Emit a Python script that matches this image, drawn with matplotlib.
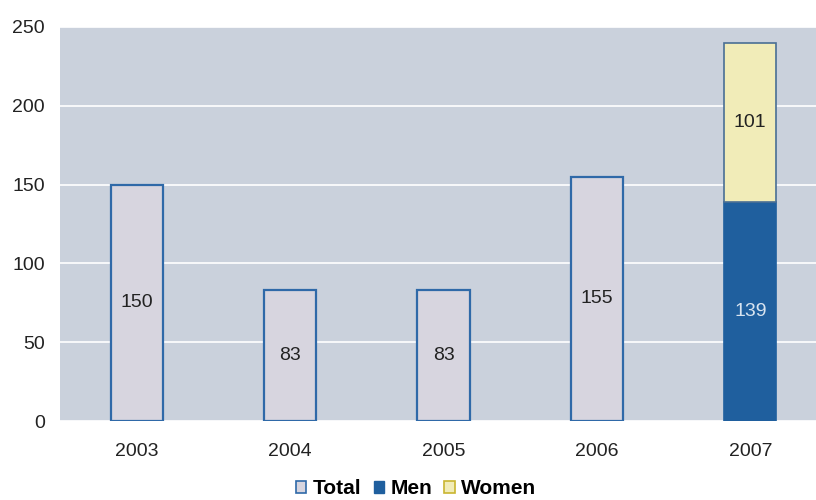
import matplotlib
matplotlib.use("Agg")
import matplotlib.pyplot as plt
from matplotlib.patches import Patch

plt.rcParams['font.family'] = ['Liberation Sans', 'DejaVu Sans']

years = ['2003', '2004', '2005', '2006', '2007']
total = [150, 83, 83, 155, None]
men_2007 = 139
women_2007 = 101
yticks = [0, 50, 100, 150, 200, 250]

bg = '#CAD1DC'
total_fill = '#D7D5DF'
edge = '#2F69A8'
men_c = '#1F5F9E'
women_c = '#F1ECB8'

fs = 14

fig = plt.figure(figsize=(8.16, 5.0), dpi=100)
ax = fig.add_axes([60/816, 79/500, 767/816, 394/500])
ax.set_facecolor(bg)
ax.set_ylim(0, 250)
ax.set_xlim(-0.5, 4.5)
ax.set_yticks(yticks)
ax.grid(axis='y', color='white', linewidth=1.2)
ax.set_axisbelow(True)
for s in ax.spines.values():
    s.set_visible(False)
ax.tick_params(length=0, labelsize=fs, colors='#222222')
ax.tick_params(axis='y', pad=11)
ax.tick_params(axis='x', pad=16)

w = 0.34
for i, v in enumerate(total):
    if v is None:
        continue
    ax.bar(i, v, width=w, color=total_fill, edgecolor=edge, linewidth=1.6, zorder=3)
    ax.text(i, v / 2, str(v), ha='center', va='center', fontsize=fs, color='#222222', zorder=4)

i = 4
ax.bar(i, men_2007, width=w, color=men_c, edgecolor=men_c, linewidth=1.2, zorder=3)
ax.bar(i, women_2007, bottom=men_2007, width=w, color=women_c, edgecolor='#4A6F95', linewidth=1.2, zorder=3)
ax.text(i, men_2007 / 2, str(men_2007), ha='center', va='center', fontsize=fs, color='#D8E4F0', zorder=4)
ax.text(i, men_2007 + women_2007 / 2, str(women_2007), ha='center', va='center', fontsize=fs, color='#222222', zorder=4)

ax.set_xticks(range(len(years)))
ax.set_xticklabels(years)

handles = [Patch(facecolor=total_fill, edgecolor=edge, linewidth=1.2),
           Patch(facecolor=men_c, edgecolor=men_c),
           Patch(facecolor=women_c, edgecolor='#C9B530', linewidth=1.2)]
fig.legend(handles, ['Total', 'Men', 'Women'], loc='center', bbox_to_anchor=(416/816, 1 - 489/500),
           ncol=3, frameon=False, handlelength=0.5, handleheight=0.5, handletextpad=0.3,
           columnspacing=0.6, borderpad=0, prop={'weight': 'bold', 'size': 15})

fig.savefig('out.png', dpi=100, facecolor='white')
